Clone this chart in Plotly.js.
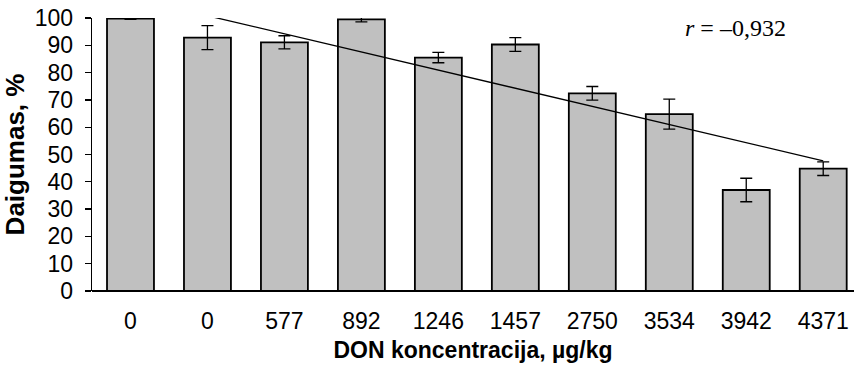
<!DOCTYPE html>
<html>
<head>
<meta charset="utf-8">
<script src="https://cdn.plot.ly/plotly-3.0.1.min.js"></script>
<style>
  html, body { margin: 0; padding: 0; background: #fff; }
  #chart { width: 854px; height: 368px; }
</style>
</head>
<body>
<div id="chart"></div>
<script>
// DON concentration groups (two untreated controls at 0 µg/kg)
const donLabels = ["0", "0", "577", "892", "1246", "1457", "2750", "3534", "3942", "4371"];
// Germination (Daigumas), %
const germination = [99.8, 92.8, 91.1, 99.5, 85.5, 90.3, 72.4, 64.8, 37.0, 44.8];
// Error bar half-widths, %
const germinationErr = [0.3, 4.4, 2.4, 0.9, 1.9, 2.5, 2.5, 5.5, 4.3, 2.5];
// Regression line end points (category position, %)
const trendX = [1.05, 9.0];
const trendY = [100.5, 47.7];
const corrText = "<i>r</i> = –0,932";

const positions = donLabels.map((_, i) => i);

const bars = {
  type: "bar",
  x: positions,
  y: germination,
  marker: { color: "#c0c0c0", line: { color: "#000", width: 1.8 } },
  error_y: { type: "data", array: germinationErr, visible: true, color: "#000", thickness: 1.3, width: 6 },
  cliponaxis: false,
  hoverinfo: "skip"
};

const trend = {
  type: "scatter",
  mode: "lines",
  x: trendX,
  y: trendY,
  line: { color: "#000", width: 1.3 },
  cliponaxis: false,
  hoverinfo: "skip"
};

const layout = {
  width: 854,
  height: 368,
  margin: { l: 92, r: 0, t: 18, b: 77 },
  paper_bgcolor: "#fff",
  plot_bgcolor: "#fff",
  showlegend: false,
  bargap: 0.39,
  font: { family: "Liberation Sans, Arial, sans-serif", color: "#000", size: 23 },
  xaxis: {
    range: [-0.5, 9.4],
    tickmode: "array",
    tickvals: positions,
    ticktext: donLabels,
    ticks: "",
    ticklabelstandoff: 14,
    showgrid: false,
    zeroline: false,
    showline: false,
    tickfont: { size: 23 },
    title: { text: "<b>DON koncentracija, µg/kg</b>", font: { size: 23 }, standoff: 8 }
  },
  yaxis: {
    range: [0, 100],
    dtick: 10,
    ticks: "outside",
    ticklen: 6,
    tickwidth: 1.3,
    tickcolor: "#000",
    ticklabelstandoff: 7,
    showline: true,
    linecolor: "#000",
    linewidth: 1.3,
    showgrid: false,
    zeroline: true,
    zerolinecolor: "#000",
    zerolinewidth: 1.3,
    tickfont: { size: 23 },
    title: { text: "<b>Daigumas, %</b>", font: { size: 26 }, standoff: 6 }
  },
  annotations: [{
    text: corrText,
    xref: "paper", yref: "paper",
    x: 0.844, y: 0.965,
    xanchor: "center", yanchor: "middle",
    showarrow: false,
    font: { family: "Liberation Serif, Times New Roman, serif", size: 24, color: "#000" }
  }]
};

Plotly.newPlot("chart", [bars, trend], layout, { displayModeBar: false, staticPlot: true });
</script>
</body>
</html>
